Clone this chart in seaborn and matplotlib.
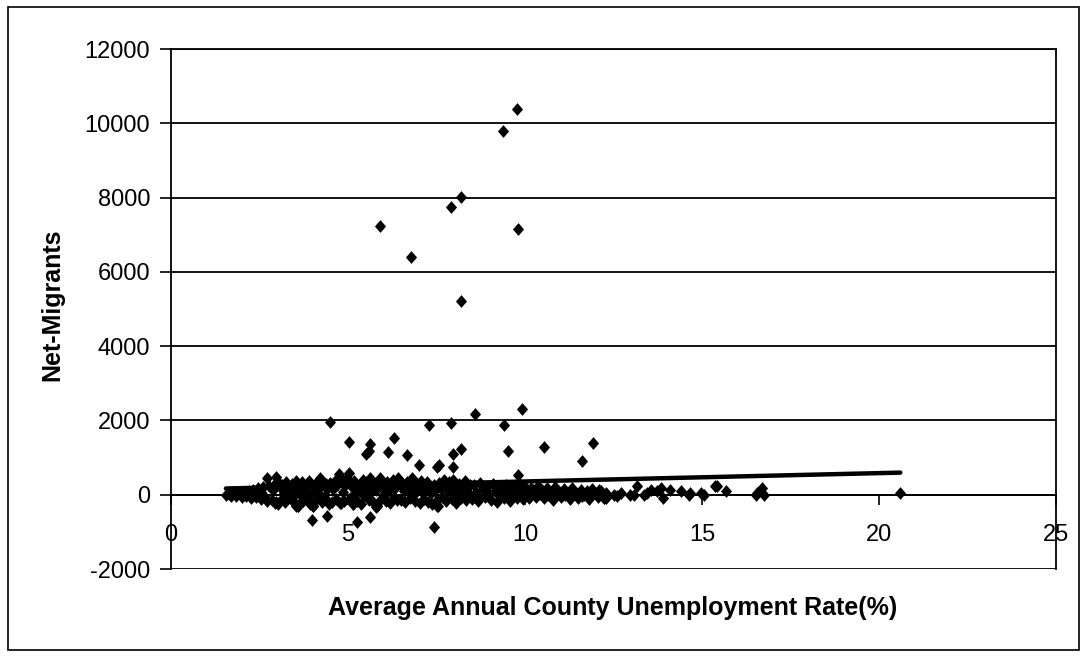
import numpy as np
import pandas as pd
import matplotlib
matplotlib.use("Agg")
import matplotlib.pyplot as plt
import seaborn as sns
from matplotlib.patches import Rectangle

# ---------------- data ----------------
band_a_x = [1.55, 1.63, 1.70, 1.78, 1.85, 1.92, 2.00, 2.06, 2.13, 2.20,
            2.27, 2.33, 2.40, 2.46, 2.53, 2.60, 2.66, 2.72, 2.78, 2.85,
            2.91, 2.97, 2.10, 2.35, 2.55, 2.70, 2.88, 2.45, 2.62, 2.95]
band_a_y = [0, 15, -25, 40, -35, 55, -60, 80, -45, 110,
            -90, 140, -70, 170, -120, 200, -100, 441, 230, -150,
            260, 468, 20, -20, 60, -180, 120, 30, -40, -210]

band_b_x = [3.02, 3.06, 3.10, 3.14, 3.18, 3.22, 3.26, 3.30, 3.34, 3.38,
            3.42, 3.46, 3.50, 3.54, 3.58, 3.62, 3.66, 3.70, 3.74, 3.78,
            3.82, 3.86, 3.90, 3.94, 3.98, 4.02, 4.06, 4.10, 4.14, 4.18,
            4.22, 4.26, 4.30, 4.34, 4.38, 4.42, 4.46, 3.20, 3.48, 3.76,
            4.04, 4.32, 3.12, 3.64, 4.20]
band_b_y = [-243, 310, -150, 250, 40, -200, 350, -60, 180, -120,
            290, 90, -230, 370, -315, 210, -30, 330, -180, 140,
            260, -90, 380, -250, 60, -315, 300, -140, 230, 20,
            441, -190, 350, -80, 280, 150, -240, 100, 0, -20,
            120, -60, 180, 60, 200]

band_c_x = [4.50, 4.54, 4.58, 4.62, 4.66, 4.70, 4.74, 4.78, 4.82, 4.86,
            4.90, 4.94, 4.98, 5.02, 5.06, 5.10, 5.14, 5.18, 5.22, 5.26,
            5.30, 5.34, 5.38, 5.42, 5.46, 5.50, 5.54, 5.58, 5.62, 5.66,
            5.70, 5.74, 5.78, 5.82, 5.86, 5.90, 5.94, 5.98, 6.02, 6.06,
            6.10, 6.14, 6.18, 6.22, 6.26, 6.30, 6.34, 6.38, 6.42, 6.46]
band_c_y = [320, -200, 150, 380, -120, 250, 559, -225, 420, 80,
            -160, 300, 440, 586, -90, 200, -243, 360, 40, -180,
            270, 130, -260, 400, -40, 330, 180, -140, 440, 60,
            -200, 290, 120, -315, 380, 440, -110, 220, 20, -170,
            340, 100, -230, 260, 400, -60, 190, -150, 440, 300]

band_d_x = [6.50, 6.54, 6.58, 6.62, 6.66, 6.70, 6.74, 6.78, 6.82, 6.86,
            6.90, 6.94, 6.98, 7.02, 7.06, 7.10, 7.14, 7.18, 7.22, 7.26,
            7.30, 7.34, 7.38, 7.42, 7.46, 7.50, 7.54, 7.58, 7.62, 7.66,
            7.70, 7.74, 7.78, 7.82, 7.86, 7.90, 7.94, 7.98, 8.02, 8.06,
            8.10, 8.14, 8.18, 8.22, 8.26, 8.30, 8.34, 8.38, 8.42, 8.46]
band_d_y = [-140, 280, 90, -200, 350, 160, -80, 240, 440, 30,
            -170, 300, 120, -230, 380, 60, -110, 220, 330, -190,
            150, 40, -250, 260, 100, -140, -297, 310, 180, -60,
            400, 220, -180, 90, 350, 270, -120, 400, 50, -210,
            160, 290, -90, 230, 120, 360, -150, 200, 20, 260]

band_e_x = [8.50, 8.56, 8.62, 8.68, 8.74, 8.80, 8.86, 8.92, 8.98, 9.04,
            9.10, 9.16, 9.22, 9.28, 9.34, 9.40, 9.46, 9.52, 9.58, 9.64,
            9.70, 9.76, 9.82, 9.88, 9.94, 10.00, 10.06, 10.12, 10.18, 10.24,
            10.30, 10.36, 10.42, 10.48, 8.65, 8.95, 9.25, 9.55, 9.85, 10.15]
band_e_y = [-120, 260, 80, -180, 310, 150, -60, 220, 30, -140,
            280, 100, -200, 190, 60, -100, 250, 120, -160, 200,
            40, -80, 300, 150, -120, 220, 50, -90, 170, 100,
            -60, 230, 20, 140, -30, 0, 10, -20, 80, -40]

band_f_x = [10.55, 10.62, 10.70, 10.78, 10.86, 10.94, 11.02, 11.10, 11.18, 11.26,
            11.34, 11.42, 11.50, 11.58, 11.66, 11.74, 11.82, 11.90, 11.98, 12.06,
            12.14, 12.22, 10.66, 10.90, 11.14, 11.38, 11.62, 11.86, 12.10, 12.30]
band_f_y = [-90, 180, 40, -130, 220, 90, -60, 150, 20, -110,
            190, 60, -80, 140, 0, 110, -120, 160, 40, -70,
            90, -100, 0, 30, -20, 60, -40, 10, 120, 45]

tail_x = [12.23, 12.28, 12.51, 12.60, 12.70, 12.98, 13.08, 13.17, 13.36, 13.45,
          13.55, 13.73, 13.83, 13.90, 14.11, 14.40, 14.63, 14.66, 14.96, 15.05,
          15.38, 15.43, 15.67, 16.52, 16.56, 16.70, 16.75, 20.60]
tail_y = [-90, -100, 0, -45, 45, 0, 0, 225, 0, 45,
          135, 90, 180, -90, 135, 90, 0, 45, 45, 0,
          225, 243, 90, 0, 45, 180, 0, 45]

high_x = [4.50, 5.02, 5.61, 5.50, 5.60, 6.30, 6.14, 6.68, 7.00, 7.30,
          7.51, 7.58, 7.91, 7.97, 7.97, 8.20, 8.59, 9.40, 9.51, 9.79,
          9.91, 10.55, 11.60, 11.93,
          5.89, 6.79, 7.91, 8.19, 8.19, 9.38, 9.78, 9.79]
high_y = [1955, 1414, 1378, 1108, 1170, 1514, 1144, 1072, 802, 1874,
          757, 811, 1937, 748, 1108, 1234, 2162, 1874, 1178, 532,
          2315, 1279, 910, 1396,
          7237, 6411, 7757, 8026, 5211, 9801, 10393, 7164]

low_x = [3.97, 4.40, 5.25, 5.63, 5.80, 7.42, 7.51, 2.97, 3.54, 3.60, 4.00, 4.80, 5.14, 5.82]
low_y = [-694, -568, -730, -604, -333, -874, -315, -207, -315, -315, -315, -225, -243, -315]

trend_x = [1.55, 20.6]
trend_y = [167, 595]

x_ticks = [0, 5, 10, 15, 20, 25]
y_ticks = [-2000, 0, 2000, 4000, 6000, 8000, 10000, 12000]
x_label = "Average Annual County Unemployment Rate(%)"
y_label = "Net-Migrants"

# ---------------- build table ----------------
xs = (band_a_x + band_b_x + band_c_x + band_d_x + band_e_x + band_f_x
      + tail_x + high_x + low_x)
ys = (band_a_y + band_b_y + band_c_y + band_d_y + band_e_y + band_f_y
      + tail_y + high_y + low_y)
df = pd.DataFrame({"rate": xs, "migrants": ys})
trend = pd.DataFrame({"rate": trend_x, "migrants": trend_y})

# ---------------- plot ----------------
sns.set_theme(style="white")
plt.rcParams["font.family"] = ["Liberation Sans", "DejaVu Sans"]
plt.rcParams["text.color"] = "black"
plt.rcParams["xtick.color"] = "black"
plt.rcParams["ytick.color"] = "black"
plt.rcParams["xtick.labelcolor"] = "black"
plt.rcParams["ytick.labelcolor"] = "black"

W, H = 1087, 657
fig = plt.figure(figsize=(W / 100, H / 100), dpi=100)
ax = fig.add_axes([171 / W, 1 - 569 / H, (1056 - 171) / W, (569 - 49) / H])

diamond = [(0, 1.15), (1, 0), (0, -1.15), (-1, 0)]
sns.scatterplot(data=df, x="rate", y="migrants", ax=ax, marker=diamond,
                s=85, color="black", edgecolor="black", linewidth=0, zorder=3)
sns.lineplot(data=trend, x="rate", y="migrants", ax=ax, color="black",
             linewidth=3.2, zorder=4, solid_capstyle="round")

ax.set_xlim(0, 25)
ax.set_ylim(-2000, 12000)
ax.set_xticks(x_ticks)
ax.set_yticks(y_ticks)
ax.set_xticklabels([str(t) for t in x_ticks])
ax.set_yticklabels([str(t) for t in y_ticks])

for yv in y_ticks:
    ax.axhline(yv, color="black", linewidth=1.3, zorder=1)

for side in ["left", "right", "top"]:
    ax.spines[side].set_visible(True)
    ax.spines[side].set_color("black")
    ax.spines[side].set_linewidth(1.3)
ax.spines["bottom"].set_position(("data", 0))
ax.spines["bottom"].set_color("black")
ax.spines["bottom"].set_linewidth(1.3)

ax.tick_params(axis="y", direction="out", length=8, width=1.2, colors="black",
               labelsize=17, pad=7, left=True)
ax.tick_params(axis="x", direction="out", length=7, width=1.2, colors="black",
               labelsize=17, pad=14, bottom=True)

ax.set_xlabel("")
ax.set_ylabel("")
fig.text(613 / W, 1 - 608 / H, x_label, ha="center", va="center",
         fontsize=18, fontweight="bold", color="black")
fig.text(52 / W, 1 - 305 / H, y_label, ha="center", va="center",
         rotation=90, fontsize=18, fontweight="bold", color="black")

fig.patches.append(Rectangle((8 / W, 1 - 650 / H), (1079 - 8) / W, (650 - 7) / H,
                             transform=fig.transFigure, fill=False,
                             edgecolor="black", linewidth=1.2))

fig.savefig("out.png", dpi=100, facecolor="white")
